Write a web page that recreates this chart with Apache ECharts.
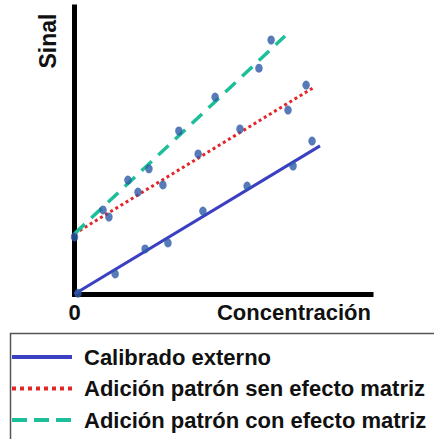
<!DOCTYPE html>
<html>
<head>
<meta charset="utf-8">
<script src="https://cdn.jsdelivr.net/npm/echarts@6/dist/echarts.min.js"></script>
<style>html,body{margin:0;padding:0;background:#fff}#c{width:434px;height:439px}</style>
</head>
<body>
<div id="c"></div>
<script>
// Series names
const seriesNames = ['Calibrado externo', 'Adición patrón sen efecto matriz', 'Adición patrón con efecto matriz'];
// Fitted lines (start/end points, [x, y])
const lineExterno = [[0, 0], [8.28, 5.16]];
const lineSenMatriz = [[0, 2.1], [8.04, 7.18]];
const lineConMatriz = [[0, 2.1], [7.10, 8.99]];
// Measured points
const ptsExterno = [[0.12, 0.03], [1.37, 0.70], [2.38, 1.57], [3.15, 1.78], [4.33, 2.89], [5.82, 3.76], [7.37, 4.46], [8.01, 5.33]];
const ptsSenMatriz = [[0, 1.99], [1.16, 2.68], [2.14, 3.55], [2.98, 3.80], [4.17, 4.88], [5.58, 5.75], [7.20, 6.41], [7.81, 7.28]];
const ptsConMatriz = [[0.96, 2.93], [1.80, 3.97], [2.51, 4.36], [3.52, 5.68], [4.74, 6.86], [6.22, 7.87], [6.63, 8.85]];
// Axis texts
const xName = 'Concentración';
const yName = 'Sinal';
const xTickLabels = ['0'];

const FONT = "'Liberation Sans', Arial, sans-serif";
const blue = '#3b3fc2', red = '#e4262b', teal = '#1dbf9b', dot = '#2c5aa6';

const chart = echarts.init(document.getElementById('c'), null, {renderer: 'svg'});
chart.setOption({
  animation: false,
  backgroundColor: '#fff',
  grid: {left: 74.5, right: 63, top: 7, bottom: 145},
  xAxis: {
    type: 'value', min: 0, max: 10, interval: 10,
    axisLine: {lineStyle: {color: '#000', width: 5, cap: 'square'}},
    axisTick: {show: false}, splitLine: {show: false},
    axisLabel: {
      margin: 7, color: '#111', fontFamily: FONT, fontWeight: 'bold', fontSize: 22,
      formatter: v => (v === 0 ? xTickLabels[0] : '')
    },
    name: xName, nameLocation: 'end', nameGap: 0,
    nameTextStyle: {align: 'right', verticalAlign: 'top', padding: [7, 0, 0, 0], color: '#111', fontFamily: FONT, fontWeight: 'bold', fontSize: 22}
  },
  yAxis: {
    type: 'value', min: 0, max: 10,
    axisLine: {show: true, lineStyle: {color: '#000', width: 5, cap: 'square'}},
    axisTick: {show: false}, splitLine: {show: false}, axisLabel: {show: false}
  },
  graphic: [{
    type: 'text', x: 48, y: 41, rotation: Math.PI / 2,
    style: {text: yName, fill: '#111', font: "bold 23px " + FONT, textAlign: 'center', textVerticalAlign: 'middle'}
  }, {
    type: 'rect', shape: {x: 10.5, y: 333.5, width: 440, height: 130},
    style: {fill: 'none', stroke: '#555', lineWidth: 1.5}, silent: true
  }],
  legend: {
    orient: 'vertical', left: 10, top: 346,
    padding: 0,
    itemWidth: 60, itemHeight: 14, itemGap: 9.5,
    textStyle: {color: '#111', fontFamily: FONT, fontWeight: 'bold', fontSize: 22, lineHeight: 22, padding: [0, 0, 0, 7]},
    data: [
      {name: seriesNames[0], itemStyle: {opacity: 0}, lineStyle: {width: 4, type: 'solid'}},
      {name: seriesNames[1], itemStyle: {opacity: 0}, lineStyle: {width: 4, type: [4, 4]}},
      {name: seriesNames[2], itemStyle: {opacity: 0}, lineStyle: {width: 4, type: [15, 7]}}
    ]
  },
  series: [
    {name: seriesNames[0], type: 'line', data: lineExterno, symbol: 'none', lineStyle: {color: blue, width: 3}, itemStyle: {color: blue}},
    {name: seriesNames[1], type: 'line', data: lineSenMatriz, symbol: 'none', lineStyle: {color: red, width: 3, type: [3, 3]}, itemStyle: {color: red}},
    {name: seriesNames[2], type: 'line', data: lineConMatriz, symbol: 'none', lineStyle: {color: teal, width: 3.5, type: [14, 9]}, itemStyle: {color: teal}},
    {name: 'p1', type: 'scatter', data: ptsExterno, symbolSize: [7.5, 9], itemStyle: {color: dot}, z: 5},
    {name: 'p2', type: 'scatter', data: ptsSenMatriz, symbolSize: [7.5, 9], itemStyle: {color: dot}, z: 5},
    {name: 'p3', type: 'scatter', data: ptsConMatriz, symbolSize: [7.5, 9], itemStyle: {color: dot}, z: 5}
  ]
});
</script>
</body>
</html>
